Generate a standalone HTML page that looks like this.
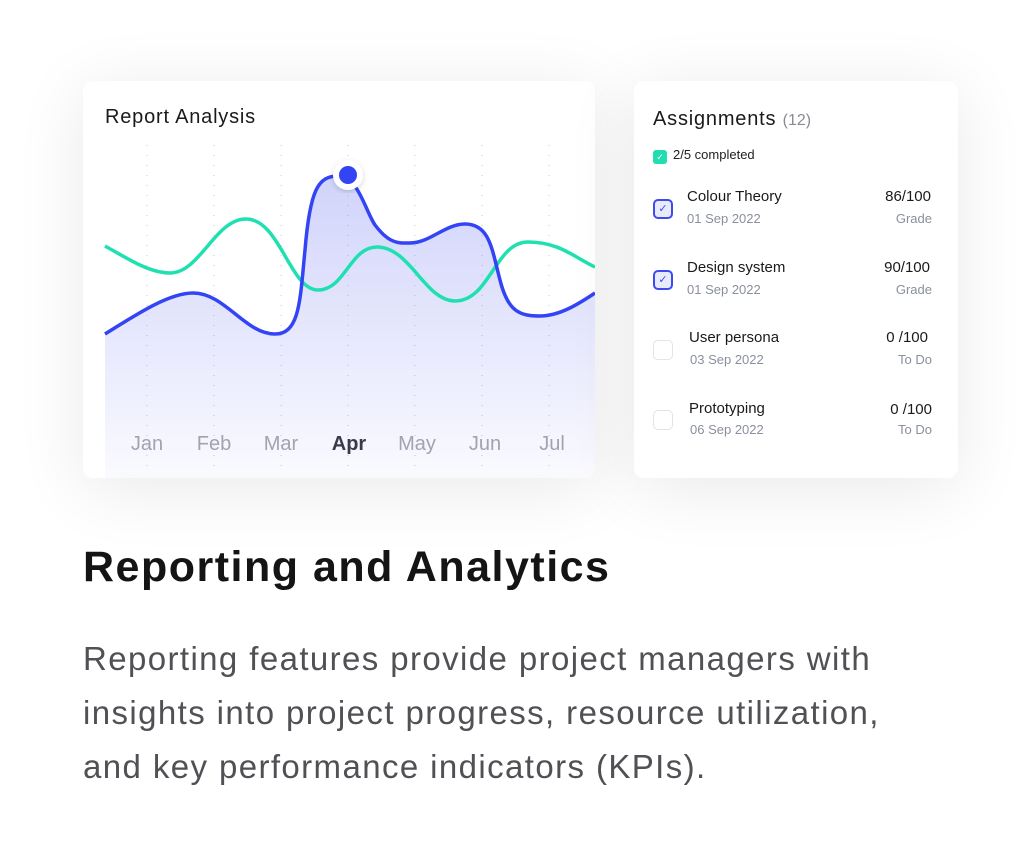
<!DOCTYPE html>
<html><head><style>
body{margin:0;width:1024px;height:868px;background:#fff;font-family:"Liberation Sans",sans-serif;position:relative;overflow:hidden}
.card{position:absolute;background:#fff;border-radius:10px;box-shadow:0 10px 70px rgba(0,0,0,0.09)}
.t{position:absolute;white-space:nowrap}
.cb{position:absolute;left:19px;width:20px;height:20px;border-radius:5px;box-sizing:border-box}
.on{border:2px solid #3d4af0;background:#e8eafd}
.off{border:1.5px solid #e4e4e8}
</style></head><body>
<div class="card" style="left:83px;top:81px;width:512px;height:397px;overflow:hidden">
<div class="t" style="left:22px;top:25px;font-size:20px;color:#1a1a1a;letter-spacing:0.8px">Report Analysis</div>
<svg width="512" height="397" viewBox="83 81 512 397" style="position:absolute;left:0;top:0">
<defs><linearGradient id="g" x1="0" y1="0" x2="0" y2="1"><stop offset="0" stop-color="#5a64f0" stop-opacity="0.28"/><stop offset="1" stop-color="#5a64f0" stop-opacity="0.03"/></linearGradient>
<filter id="s"><feDropShadow dx="0" dy="2" stdDeviation="3" flood-opacity="0.15"/></filter></defs>
<g stroke="#c8c8d0" stroke-width="1" stroke-dasharray="1 9">
<line x1="147" y1="145" x2="147" y2="475"/><line x1="214" y1="145" x2="214" y2="475"/><line x1="281" y1="145" x2="281" y2="475"/><line x1="348" y1="145" x2="348" y2="475"/><line x1="415" y1="145" x2="415" y2="475"/><line x1="482" y1="145" x2="482" y2="475"/><line x1="549" y1="145" x2="549" y2="475"/></g>
<path d="M105,334 C140,312 170,293 193,293 C225,293 245,334 275,334 C300,334 300,300 305,250 C310,190 318,176 338,176 C358,176 365,210 375,225 C390,245 400,243 410,243 C430,243 445,224 465,224 C490,224 492,250 500,280 C508,312 520,316 540,316 C560,316 580,303 595,293 L595,478 L105,478 Z" fill="url(#g)"/>
<path d="M105,246 C130,260 150,273 170,273 C200,273 215,219 246,219 C280,219 290,290 318,290 C345,290 350,247 377,247 C410,247 425,301 455,301 C490,301 495,242 528,242 C560,242 575,258 595,267" fill="none" stroke="#1fe0b0" stroke-width="3.5"/>
<path d="M105,334 C140,312 170,293 193,293 C225,293 245,334 275,334 C300,334 300,300 305,250 C310,190 318,176 338,176 C358,176 365,210 375,225 C390,245 400,243 410,243 C430,243 445,224 465,224 C490,224 492,250 500,280 C508,312 520,316 540,316 C560,316 580,303 595,293" fill="none" stroke="#3344f5" stroke-width="3.5"/>
<circle cx="348" cy="175" r="15" fill="#fff" filter="url(#s)"/>
<circle cx="348" cy="175" r="9" fill="#3344f5"/>
<g font-family="Liberation Sans" font-size="20" fill="#a3a3b0" text-anchor="middle">
<text x="147" y="450">Jan</text><text x="214" y="450">Feb</text><text x="281" y="450">Mar</text><text x="349" y="450" font-weight="bold" fill="#3a3a4a">Apr</text><text x="417" y="450">May</text><text x="485" y="450">Jun</text><text x="552" y="450">Jul</text></g>
</svg></div>
<div class="card" style="left:634px;top:81px;width:324px;height:397px">
<div class="t" style="left:19px;top:27px;font-size:20px;color:#1a1a1a;letter-spacing:0.8px">Assignments <span style="font-size:16px;color:#8a8a96;letter-spacing:0">(12)</span></div>
<div style="position:absolute;left:19px;top:69px;width:14px;height:14px;border-radius:3px;background:#22ddb0;color:#fff;font-size:9px;text-align:center;line-height:14px">✓</div>
<div class="t" style="left:39px;top:66px;font-size:13px;color:#222">2/5 completed</div>

<div class="cb on" style="top:118px;color:#3d4af0;font-size:11px;text-align:center;line-height:16px">✓</div>
<div class="t" style="left:53px;top:107px;font-size:15px;color:#1a1a1a">Colour Theory</div>
<div class="t" style="left:53px;top:130px;font-size:13px;color:#8a8f9e">01 Sep 2022</div>
<div class="t" style="right:27px;top:107px;font-size:15px;color:#1a1a1a">86/100</div>
<div class="t" style="right:26px;top:130px;font-size:13px;color:#8a8f9e">Grade</div>

<div class="cb on" style="top:189px;color:#3d4af0;font-size:11px;text-align:center;line-height:16px">✓</div>
<div class="t" style="left:53px;top:178px;font-size:15px;color:#1a1a1a">Design system</div>
<div class="t" style="left:53px;top:201px;font-size:13px;color:#8a8f9e">01 Sep 2022</div>
<div class="t" style="right:28px;top:178px;font-size:15px;color:#1a1a1a">90/100</div>
<div class="t" style="right:26px;top:201px;font-size:13px;color:#8a8f9e">Grade</div>

<div class="cb off" style="top:259px"></div>
<div class="t" style="left:55px;top:248px;font-size:15px;color:#1a1a1a">User persona</div>
<div class="t" style="left:56px;top:271px;font-size:13px;color:#8a8f9e">03 Sep 2022</div>
<div class="t" style="right:30px;top:248px;font-size:15px;color:#1a1a1a">0 /100</div>
<div class="t" style="right:26px;top:271px;font-size:13px;color:#8a8f9e">To Do</div>

<div class="cb off" style="top:329px"></div>
<div class="t" style="left:55px;top:319px;font-size:15px;color:#1a1a1a">Prototyping</div>
<div class="t" style="left:56px;top:341px;font-size:13px;color:#8a8f9e">06 Sep 2022</div>
<div class="t" style="right:26px;top:320px;font-size:15px;color:#1a1a1a">0 /100</div>
<div class="t" style="right:26px;top:341px;font-size:13px;color:#8a8f9e">To Do</div>
</div>
<div class="t" style="left:83px;top:543px;font-size:43px;font-weight:bold;color:#141414;letter-spacing:1.5px">Reporting and Analytics</div>
<div style="position:absolute;left:83px;top:632px;width:930px;font-size:33px;line-height:54px;color:#505055;letter-spacing:1.4px;white-space:nowrap">Reporting features provide project managers with<br>insights into project progress, resource utilization,<br>and key performance indicators (KPIs).</div>
</body></html>
